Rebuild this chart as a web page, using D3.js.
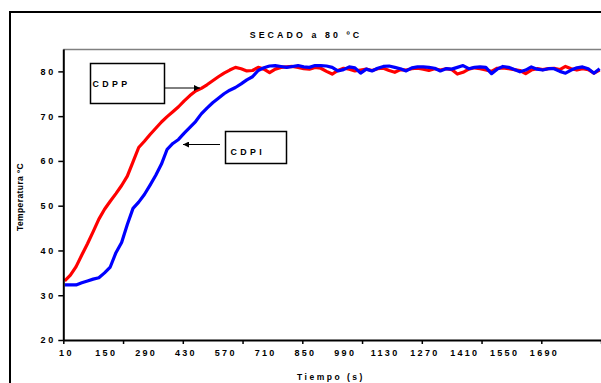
<!DOCTYPE html>
<html><head><meta charset="utf-8">
<script src="https://cdn.jsdelivr.net/npm/d3@7"></script>
<style>
html,body{margin:0;padding:0;background:#fff;overflow:hidden;}
text{font-family:"Liberation Sans",Arial,sans-serif;font-weight:bold;fill:#000;}
</style></head>
<body>
<svg id="chart" width="601" height="383"></svg>
<script>
// ---- data ----
const chartTitle = "SECADO a 80 ºC";
const xTitle = "Tiempo (s)";
const yTitle = "Temperatura ºC";
const seriesNames = ["CDPP", "CDPI"];
const times = [10,30,50,70,90,110,130,150,170,190,210,230,250,270,290,310,330,350,370,390,
  410,430,450,470,490,510,530,550,570,590,610,630,650,670,690,710,730,750,770,790,
  810,830,850,870,890,910,930,950,970,990,1010,1030,1050,1070,1090,1110,1130,1150,1170,1190,
  1210,1230,1250,1270,1290,1310,1330,1350,1370,1390,1410,1430,1450,1470,1490,1510,1530,1550,1570,1590,
  1610,1630,1650,1670,1690,1710,1730,1750,1770,1790,1810,1830,1850,1870,1890];
const cdpp = [33.2,34.5,36.4,39.0,41.5,44.2,47.0,49.2,51.0,52.7,54.5,56.6,59.8,63.0,64.4,65.9,67.3,68.7,69.9,71.0,
  72.1,73.4,74.6,75.6,76.2,77.0,77.9,78.8,79.6,80.3,80.9,80.6,80.1,80.2,80.9,80.5,79.7,80.5,80.9,81.0,
  81.1,80.9,80.6,80.5,80.9,80.7,80.0,79.4,80.2,80.7,80.5,80.1,80.3,80.5,80.2,80.6,80.7,80.2,79.8,80.4,
  80.3,80.6,80.7,80.5,80.2,80.6,80.3,80.6,80.4,79.4,79.8,80.5,80.8,80.6,80.3,80.0,80.7,80.8,80.6,80.4,
  80.2,79.5,80.3,80.6,80.4,80.6,80.7,80.4,81.1,80.6,80.3,80.6,80.4,79.6,80.3];
const cdpi = [32.3,32.3,32.3,32.8,33.2,33.6,33.9,35.0,36.3,39.5,41.8,45.8,49.4,50.8,52.5,54.6,56.8,59.3,62.6,63.9,
  64.8,66.2,67.5,68.8,70.5,71.8,73.0,74.0,75.0,75.8,76.4,77.2,78.1,78.8,80.2,80.8,81.2,81.3,81.1,80.9,
  81.1,81.3,81.0,80.9,81.3,81.3,81.2,80.9,80.1,80.4,81.0,80.8,79.6,80.5,80.1,80.7,81.1,81.2,80.9,80.6,
  80.1,80.8,81.0,81.0,80.9,80.7,80.1,80.6,80.5,80.9,81.3,80.6,80.9,81.0,80.9,79.5,80.5,81.1,80.9,80.4,
  79.9,80.3,81.0,80.5,80.3,80.6,80.6,80.0,79.6,80.3,80.8,81.0,80.6,79.6,80.6];
const xLabelValues = [10,150,290,430,570,710,850,990,1130,1270,1410,1550,1690];
const xTickMarks = [5,215,425,635,845,1055,1265,1475,1685,1895];
const yTickValues = [20,30,40,50,60,70,80];
const xDomain = [5, 1905];
const yDomain = [20, 85];

// ---- layout ----
const svg = d3.select("#chart");
const pLeft = 63.3, pRight = 603.9, pTop = 49, pBottom = 340;
const x = d3.scaleLinear().domain(xDomain).range([pLeft, pRight]);
const y = d3.scaleLinear().domain(yDomain).range([pBottom, pTop]);

// outer chart frame (extends past the window)
svg.append("rect").attr("x", 10).attr("y", 12).attr("width", 700).attr("height", 500)
  .attr("fill", "none").attr("stroke", "#000").attr("stroke-width", 2);

// title
svg.append("text").attr("x", 306).attr("y", 38).attr("text-anchor", "middle")
  .style("font-size", "8.8px").style("letter-spacing", "3.1px").text(chartTitle);

// plot area top border
svg.append("line").attr("x1", pLeft).attr("x2", 700).attr("y1", pTop + 0.5).attr("y2", pTop + 0.5)
  .attr("stroke", "#808080").attr("stroke-width", 1.5);

// lines
const line = d3.line().x((d, i) => x(times[i])).y(d => y(d));
svg.append("path").datum(cdpp).attr("d", line).attr("fill", "none")
  .attr("stroke", "#FF0000").attr("stroke-width", 3.2).attr("stroke-linejoin", "round");
svg.append("path").datum(cdpi).attr("d", line).attr("fill", "none")
  .attr("stroke", "#0000FF").attr("stroke-width", 3.2).attr("stroke-linejoin", "round");

// y axis
const yAxis = svg.append("g").attr("transform", `translate(${pLeft},0)`)
  .call(d3.axisLeft(y).tickValues(yTickValues).tickSize(5).tickPadding(5).tickSizeOuter(0));
yAxis.attr("font-family", null).attr("font-size", null);
yAxis.select(".domain").attr("stroke", "#000").attr("stroke-width", 2);
yAxis.selectAll(".tick line").attr("stroke", "#000").attr("stroke-width", 1.5);
yAxis.selectAll(".tick text").style("font-size", "9px").style("letter-spacing", "2.8px").attr("dx", "2.8px");

// x axis: tick marks
const xAxis = svg.append("g").attr("transform", `translate(0,${pBottom})`)
  .call(d3.axisBottom(x).tickValues(xTickMarks).tickSize(4).tickSizeOuter(0).tickFormat(""));
xAxis.select(".domain").attr("stroke", "#000").attr("stroke-width", 2);
xAxis.selectAll(".tick line").attr("stroke", "#000").attr("stroke-width", 1.5);
// x axis: labels
const xLab = svg.append("g").attr("transform", `translate(0,${pBottom})`)
  .call(d3.axisBottom(x).tickValues(xLabelValues).tickSize(0).tickPadding(10).tickFormat(d3.format("d")));
xLab.select(".domain").remove();
xLab.attr("font-family", null).attr("font-size", null);
xLab.selectAll(".tick text").style("font-size", "9px").style("letter-spacing", "2.3px").attr("dx", "1.2px");

// axis titles
svg.append("text").attr("x", 331).attr("y", 380).attr("text-anchor", "middle")
  .style("font-size", "8.5px").style("letter-spacing", "2.5px").text(xTitle);
svg.append("text").attr("transform", "translate(23,197) rotate(-90)").attr("text-anchor", "middle")
  .style("font-size", "8.5px").style("letter-spacing", "0.4px").text(yTitle);

// annotation boxes with arrows
const defs = svg.append("defs");
defs.append("marker").attr("id", "arr").attr("viewBox", "0 0 10 10").attr("refX", 10).attr("refY", 5)
  .attr("markerWidth", 8).attr("markerHeight", 6).attr("orient", "auto").attr("markerUnits", "userSpaceOnUse")
  .append("path").attr("d", "M0,0L10,5L0,10Z").attr("fill", "#000");

function callout(bx, by, bw, bh, label, tx, ty, x1, y1, x2, y2) {
  svg.append("line").attr("x1", x1).attr("y1", y1).attr("x2", x2).attr("y2", y2)
    .attr("stroke", "#000").attr("stroke-width", 1).attr("marker-end", "url(#arr)");
  svg.append("rect").attr("x", bx).attr("y", by).attr("width", bw).attr("height", bh)
    .attr("fill", "#fff").attr("stroke", "#000").attr("stroke-width", 1.5);
  svg.append("text").attr("x", tx).attr("y", ty).style("font-size", "8.8px")
    .style("letter-spacing", "3.4px").text(label);
}
callout(90.5, 63.5, 74, 40, seriesNames[0], 92.5, 87, 164, 88, 200, 88);
callout(225.5, 131.5, 61, 32, seriesNames[1], 230.5, 155, 220, 144.5, 183, 144.5);
</script>
</body></html>
